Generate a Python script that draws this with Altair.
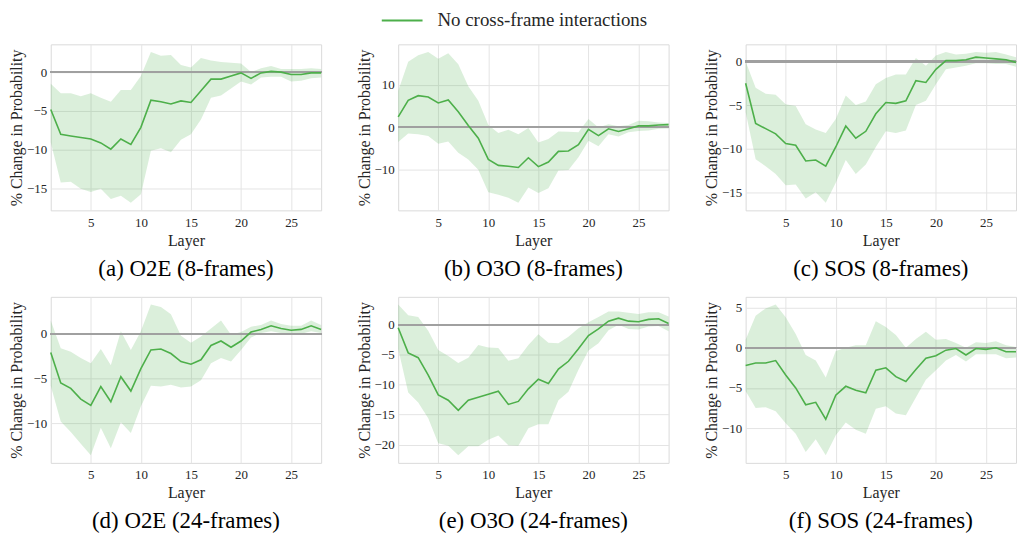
import altair as alt
import pandas as pd

layers = list(range(1, 29))
SERIES = "No cross-frame interactions"
GREEN = "#4daf4a"
FONT = "Liberation Serif"

# (a) O2E (8-frames)
a_mean = [-4.8, -8.0, -8.2, -8.4, -8.6, -9.1, -9.9, -8.6, -9.3, -7.1, -3.6, -3.8, -4.1, -3.7,
          -3.9, -2.4, -0.9, -0.9, -0.5, -0.1, -0.8, -0.1, 0.1, 0.0, -0.3, -0.3, -0.1, -0.1]
a_hi = [-1.5, -2.7, -2.7, -3.1, -2.7, -3.3, -3.8, -2.3, -2.3, -0.5, 2.6, 2.1, 2.2, 0.9,
        0.6, 1.8, 1.5, 1.3, 1.2, 1.1, 0.0, 0.5, 0.8, 0.4, 0.4, 0.4, 0.5, 0.4]
a_lo = [-9.0, -14.2, -14.1, -15.0, -15.4, -15.0, -16.3, -15.9, -16.8, -15.7, -10.1, -9.8, -10.3, -8.7,
        -8.0, -6.1, -3.3, -3.0, -2.1, -1.2, -1.6, -0.7, -0.6, -0.6, -1.2, -1.1, -0.8, -0.7]

# (b) O3O (8-frames)
b_mean = [2.4, 6.3, 7.4, 7.1, 5.7, 6.4, 3.6, 0.4, -2.6, -7.6, -9.0, -9.2, -9.5, -7.2,
          -9.3, -8.2, -5.7, -5.6, -4.1, -0.5, -2.0, -0.4, -1.0, -0.4, 0.3, 0.3, 0.5, 0.6]
b_hi = [8.5, 15.4, 16.9, 17.7, 16.1, 17.4, 14.8, 9.6, 6.2, 0.5, -1.4, -0.6, -1.7, -0.2,
        -3.6, -2.8, -1.0, -1.1, -1.2, 1.9, -0.1, 0.7, 0.2, 0.5, 1.5, 1.4, 1.1, 1.0]
b_lo = [-3.5, -1.5, -1.7, -2.1, -3.9, -3.4, -6.0, -7.6, -10.0, -15.3, -15.9, -16.6, -17.8, -14.2,
        -15.5, -14.4, -10.2, -10.1, -7.1, -3.2, -4.5, -1.7, -2.2, -1.2, -0.9, -0.8, -0.4, -0.3]

# (c) SOS (8-frames)
c_mean = [-2.5, -7.1, -7.7, -8.3, -9.4, -9.6, -11.4, -11.3, -12.0, -9.8, -7.4, -8.8, -8.0, -6.0,
          -4.7, -4.8, -4.5, -2.2, -2.4, -0.9, 0.1, 0.1, 0.2, 0.5, 0.4, 0.3, 0.2, -0.1]
c_hi = [0.0, -3.0, -3.7, -3.8, -4.9, -5.1, -7.2, -7.8, -8.2, -6.6, -3.9, -5.0, -4.6, -2.6,
        -1.9, -1.5, -1.5, 0.4, -0.5, 0.7, 1.1, 0.8, 0.9, 1.1, 1.0, 1.1, 0.8, 0.5]
c_lo = [-5.8, -11.2, -12.0, -12.9, -14.2, -14.1, -15.7, -15.0, -16.2, -13.9, -11.3, -12.9, -11.8, -9.8,
        -8.0, -8.2, -7.9, -5.0, -4.5, -2.6, -0.9, -0.7, -0.5, -0.2, -0.2, -0.3, -0.3, -0.6]

# (d) O2E (24-frames)
d_mean = [-2.1, -5.5, -6.1, -7.3, -8.0, -5.9, -7.6, -4.8, -6.4, -3.9, -1.8, -1.7, -2.2, -3.1,
          -3.4, -2.9, -1.3, -0.8, -1.5, -0.8, 0.2, 0.5, 0.9, 0.6, 0.4, 0.5, 0.9, 0.5]
d_hi = [1.5, -1.6, -2.0, -2.7, -3.3, -1.7, -3.5, 0.3, -1.8, 0.3, 3.3, 3.0, 2.2, -0.2,
        -1.0, -0.3, 0.6, 1.5, -0.1, 0.2, 0.8, 1.0, 1.5, 1.1, 0.9, 0.9, 1.5, 1.0]
d_lo = [-5.8, -9.8, -11.0, -12.3, -13.6, -10.5, -12.8, -9.9, -11.1, -8.1, -5.8, -5.9, -5.7, -6.0,
        -5.9, -5.2, -3.3, -2.7, -3.1, -1.8, -0.4, 0.1, 0.3, 0.1, 0.0, 0.0, 0.3, 0.1]

# (e) O3O (24-frames)
e_mean = [-0.5, -4.7, -5.5, -8.4, -11.7, -12.6, -14.3, -12.6, -12.1, -11.6, -11.1, -13.3, -12.8, -10.7,
          -9.1, -9.8, -7.4, -6.1, -4.0, -1.8, -0.7, 0.6, 1.1, 0.6, 0.5, 0.9, 1.0, 0.2]
e_hi = [3.4, 1.6, 1.3, -1.0, -4.2, -5.2, -6.4, -5.5, -3.4, -3.8, -3.9, -6.0, -5.6, -3.4,
        -1.6, -3.0, -3.1, -2.0, -0.6, 0.4, 1.3, 2.2, 2.2, 2.0, 1.8, 2.1, 2.1, 1.4]
e_lo = [-4.0, -11.3, -13.0, -15.6, -19.8, -20.2, -21.8, -20.3, -20.3, -19.2, -18.5, -20.1, -20.2, -17.3,
        -16.6, -16.6, -12.6, -11.2, -7.5, -4.3, -3.1, -0.9, 0.0, -0.7, -0.8, -0.3, -0.2, -1.1]

# (f) SOS (24-frames)
f_mean = [-2.2, -1.9, -1.9, -1.6, -3.4, -5.0, -7.1, -6.8, -8.9, -5.9, -4.8, -5.3, -5.6, -2.8,
          -2.5, -3.6, -4.2, -2.7, -1.3, -1.0, -0.3, -0.1, -0.9, -0.1, -0.2, 0.0, -0.5, -0.5]
f_hi = [1.0, 4.0, 4.9, 5.4, 3.8, 1.7, -0.9, -1.6, -3.7, -0.4, 0.0, 0.3, 0.3, 3.3,
        2.6, 1.6, 0.0, 1.1, 2.0, 1.0, 1.1, 0.6, 0.0, 0.7, 0.6, 0.8, 0.3, 0.1]
f_lo = [-5.4, -7.5, -7.4, -7.9, -9.4, -10.7, -13.0, -11.4, -13.4, -10.9, -9.3, -10.2, -10.7, -7.6,
        -7.3, -8.2, -8.4, -6.2, -4.0, -2.8, -1.6, -0.9, -1.7, -0.8, -0.8, -0.8, -1.3, -1.2]

captions = ["(a) O2E (8-frames)", "(b) O3O (8-frames)", "(c) SOS (8-frames)",
            "(d) O2E (24-frames)", "(e) O3O (24-frames)", "(f) SOS (24-frames)"]
yticks = [[-15, -10, -5, 0], [-10, 0, 10], [-15, -10, -5, 0],
          [-10, -5, 0], [-20, -15, -10, -5, 0], [-10, -5, 0, 5]]
x_ticks = [5, 10, 15, 20, 25]

W, H = 272, 167
TXT = "#262626"
color_scale = alt.Scale(domain=[SERIES], range=[GREEN])

axis_style = dict(labelFont=FONT, labelFontSize=13, labelColor=TXT,
                  titleFont=FONT, titleFontSize=16, titleFontWeight="normal", titleColor=TXT,
                  grid=True, gridColor="#e4e4e4", gridWidth=1, domain=False, ticks=False)


def panel(mean, lo, hi, caption, yt):
    df = pd.DataFrame({"Layer": layers, "mean": mean, "lo": lo, "hi": hi,
                       "series": [SERIES] * len(layers)})
    ymin, ymax = min(lo), max(hi)
    pad = 0.05 * (ymax - ymin)
    yscale = alt.Scale(domain=[ymin - pad, ymax + pad], nice=False, zero=False)
    yaxis = alt.Axis(values=yt, title="% Change in Probability", minExtent=24, maxExtent=24,
                     labelPadding=4, titlePadding=2, **axis_style)
    x = alt.X("Layer:Q", scale=alt.Scale(domain=[1, 28], nice=False, zero=False),
              axis=alt.Axis(values=x_ticks, title="Layer", labelPadding=6, titlePadding=3,
                            **axis_style))
    base = alt.Chart(df)
    band = base.mark_area(color=GREEN, opacity=0.2).encode(
        x=x, y=alt.Y("lo:Q", scale=yscale, axis=yaxis), y2="hi:Q")
    zero = base.mark_rule(color="#a0a0a0", strokeWidth=1.3).encode(
        y=alt.Y(datum=0, scale=yscale, axis=yaxis))
    line = base.mark_line(strokeWidth=1.6).encode(
        x=x, y=alt.Y("mean:Q", scale=yscale, axis=yaxis),
        color=alt.Color("series:N", scale=color_scale, legend=None))
    return alt.layer(band, zero, line).properties(
        width=W, height=H,
        title=alt.TitleParams(text=caption, orient="bottom", fontSize=23, font=FONT,
                              fontWeight="normal", color="black", offset=10))


panels = [
    panel(a_mean, a_lo, a_hi, captions[0], yticks[0]),
    panel(b_mean, b_lo, b_hi, captions[1], yticks[1]),
    panel(c_mean, c_lo, c_hi, captions[2], yticks[2]),
    panel(d_mean, d_lo, d_hi, captions[3], yticks[3]),
    panel(e_mean, e_lo, e_hi, captions[4], yticks[4]),
    panel(f_mean, f_lo, f_hi, captions[5], yticks[5]),
]

# header legend (line swatch + label) for the single series
legend_df = pd.DataFrame({"series": [SERIES]})
legend_base = alt.Chart(legend_df)
swatch = legend_base.mark_rule(strokeWidth=2).encode(
    x=alt.value(333), x2=alt.value(374), y=alt.value(11),
    color=alt.Color("series:N", scale=color_scale, legend=None))
label = legend_base.mark_text(align="left", baseline="middle", font=FONT, fontSize=19,
                              color=TXT).encode(
    x=alt.value(389), y=alt.value(11), text="series:N")
header = alt.layer(swatch, label).properties(
    width=900, height=12, view=alt.ViewBackground(strokeOpacity=0))

grid = alt.concat(*panels, columns=3, spacing={"row": 87, "column": 77.5}, bounds="flush")

chart = alt.vconcat(header, grid, spacing=23, bounds="flush").properties(
    padding=0
).configure(
    font=FONT
).configure_view(
    stroke="#dadada", strokeWidth=1
)

chart.save("out.html", embed_options={"renderer": "svg", "actions": False})
